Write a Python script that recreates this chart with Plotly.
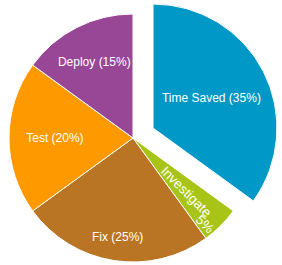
import math
import plotly.graph_objects as go

labels = ["Time Saved", "Investigate", "Fix", "Test", "Deploy"]
values = [35, 5, 25, 20, 15]
colors = ["#0098C7", "#A8C416", "#B97523", "#FF9900", "#984797"]
texts = ["Time Saved (35%)", "Investigate<br>5%", "Fix (25%)", "Test (20%)", "Deploy (15%)"]

W, H = 282, 265
R = 124
cx, cy = 133, 138          # pie centre (px from left/top)
px_, py_ = 153, 128        # pulled slice centre

def dom(x, y):
    return dict(x=[(x - R) / W, (x + R) / W], y=[(H - y - R) / H, (H - y + R) / H])

T = "rgba(0,0,0,0)"
font = dict(family="Liberation Sans, Arial, sans-serif", size=12, color="white")

def trace(show, labelled, d):
    return go.Pie(
        labels=labels, values=values, sort=False, direction="clockwise", rotation=0,
        marker=dict(colors=[c if i in show else T for i, c in enumerate(colors)],
                    line=dict(color=["white" if i in show else T for i in range(5)],
                              width=[1 if i in show else 0 for i in range(5)])),
        text=[t if i in labelled else "" for i, t in enumerate(texts)],
        textinfo="text", textposition="inside", insidetextorientation="horizontal",
        insidetextfont=font, domain=d, showlegend=False, hoverinfo="skip",
    )

fig = go.Figure([
    trace({1, 2, 3, 4}, {3, 4}, dom(cx, cy)),
    trace({0}, {0}, dom(px_, py_)),
])

# mid angles (degrees clockwise from 12 o'clock)
total = sum(values)
mids, acc = [], 0
for v in values:
    mids.append((acc + v / 2) / total * 360)
    acc += v

def ann(i, text, rfrac, angle, size=12, along=0.0, perp=0.0):
    a = math.radians(mids[i])
    x = cx + rfrac * R * math.sin(a)
    y = cy - rfrac * R * math.cos(a)
    t = math.radians(angle)
    x += math.cos(t) * along - math.sin(t) * perp
    y += math.sin(t) * along + math.cos(t) * perp
    fig.add_annotation(x=x / W, y=(H - y) / H, xref="paper", yref="paper",
                       text=text, showarrow=False, textangle=angle,
                       font=dict(font, size=size), xanchor="center", yanchor="middle")

ann(2, texts[2], 0.81, 0)
inv_name, inv_pct = texts[1].split("<br>")
ann(1, inv_name, 0.605, mids[1] - 90, 13.5)
ann(1, inv_pct, 0.605, mids[1] - 90, 13.5, along=37, perp=10)

fig.update_layout(width=W, height=H, margin=dict(l=0, r=0, t=0, b=0),
                  paper_bgcolor="white", plot_bgcolor="white")
fig.write_html("out.html")
